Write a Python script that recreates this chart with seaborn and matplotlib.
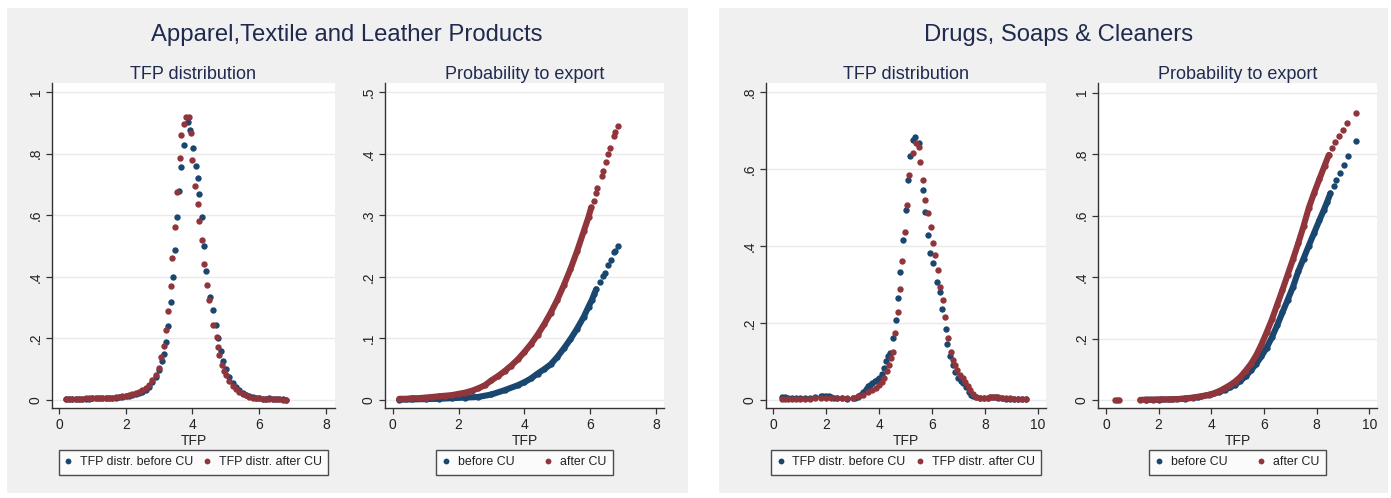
import numpy as np
import pandas as pd
import matplotlib
matplotlib.use("Agg")
import matplotlib.pyplot as plt
from matplotlib.patches import Rectangle
from matplotlib.lines import Line2D
import seaborn as sns

# ---------------- DATA ----------------
panel_titles = ["Apparel,Textile and Leather Products", "Drugs, Soaps & Cleaners"]
sub_titles = ["TFP distribution", "Probability to export"]
xlabel = "TFP"
legend_dist = ["TFP distr. before CU", "TFP distr. after CU"]
legend_prob = ["before CU", "after CU"]

# Apparel - TFP distribution
app_dist_before_x = [0.2,0.3,0.4,0.5,0.6,0.7,0.8,0.9,1.0,1.1,1.2,1.3,1.4,1.5,1.6,1.7,1.8,1.9,2.0,2.1,2.2,2.3,2.4,2.5,2.6,2.7,2.8,2.9,3.0,3.08,
                     3.15,3.22,3.27,3.35,3.42,3.49,3.55,3.60,3.67,3.75,3.87,3.92,4.02,4.10,4.15,4.20,4.27,4.35,4.40,4.52,4.60,4.70,4.77,4.85,4.92,
                     5.0,5.1,5.2,5.3,5.4,5.5,5.6,5.7,5.8,5.9,6.0,6.1,6.2,6.3,6.4,6.5,6.6,6.7,6.8]
app_dist_before_y = [.002,.002,.003,.003,.003,.004,.004,.004,.005,.005,.005,.005,.006,.006,.007,.008,.009,.010,.012,.014,.017,.020,.023,.027,.033,.043,.058,.075,.098,.125,
                     .149,.189,.240,.319,.400,.487,.595,.679,.757,.828,.904,.877,.819,.760,.722,.668,.593,.501,.419,.335,.292,.243,.200,.160,.128,
                     .100,.076,.056,.042,.031,.023,.017,.012,.009,.007,.005,.004,.004,.005,.004,.003,.002,.002,.001]
app_dist_after_x = [0.2,0.3,0.4,0.5,0.6,0.7,0.8,0.9,1.0,1.1,1.2,1.3,1.4,1.5,1.6,1.7,1.8,1.9,2.0,2.1,2.2,2.3,2.4,2.5,2.6,2.7,2.8,2.9,3.0,
                    3.07,3.15,3.22,3.27,3.35,3.40,3.47,3.55,3.62,3.67,3.75,3.82,3.89,3.95,4.00,4.07,4.15,4.20,4.27,4.34,4.42,4.50,4.60,4.72,4.77,4.80,4.88,4.95,
                    5.0,5.1,5.2,5.3,5.4,5.5,5.6,5.7,5.8,5.9,6.0,6.1,6.2,6.3,6.4,6.5,6.6,6.7,6.8]
app_dist_after_y = [.002,.003,.003,.004,.004,.004,.005,.005,.005,.005,.006,.006,.007,.007,.008,.009,.010,.012,.014,.017,.021,.024,.027,.031,.038,.048,.064,.082,.105,
                    .141,.176,.227,.290,.370,.460,.563,.676,.787,.860,.895,.920,.920,.866,.779,.695,.635,.582,.519,.440,.373,.325,.243,.206,.173,.145,.115,.095,
                    .082,.062,.047,.036,.027,.020,.015,.011,.008,.006,.005,.004,.003,.003,.003,.002,.002,.001,.001]

# Apparel - probability to export
app_prob_before_x = [0.2,0.6,1.0,1.4,1.8,2.2,2.6,3.0,3.4,3.8,4.0,4.2,4.4,4.6,4.8,5.0,5.2,5.4,5.6,5.8,5.95,6.05,6.12,6.18,6.30,6.40,6.45,6.55,6.62,6.71,6.75,6.83]
app_prob_before_y = [.0005,.001,.0015,.002,.003,.004,.005,.009,.016,.024,.029,.035,.043,.050,.058,.070,.084,.099,.116,.135,.152,.163,.172,.180,.192,.202,.207,.220,.228,.240,.243,.251]
app_prob_after_x = [0.2,0.4,0.6,0.8,1.0,1.2,1.4,1.6,1.8,2.0,2.2,2.4,2.6,2.8,3.0,3.2,3.4,3.6,3.8,4.0,4.2,4.4,4.6,4.8,5.0,5.2,5.4,5.6,5.8,5.95,
                    6.03,6.10,6.17,6.22,6.35,6.40,6.48,6.55,6.60,6.71,6.75,6.83]
app_prob_after_y = [.002,.002,.003,.003,.004,.005,.006,.007,.008,.010,.012,.015,.019,.024,.032,.039,.047,.056,.066,.078,.091,.106,.123,.142,.163,.187,.213,.242,.274,.298,
                    .313,.324,.336,.344,.364,.372,.387,.400,.410,.430,.435,.446]

# Drugs - TFP distribution
drg_dist_before_x = [0.35,0.45,0.55,0.7,0.85,1.0,1.2,1.4,1.6,1.8,1.9,2.0,2.1,2.2,2.3,2.4,2.6,2.8,3.0,3.1,3.2,3.3,3.4,3.5,3.6,3.66,3.75,3.85,3.91,4.0,
                     4.1,4.2,4.28,4.35,4.42,4.52,4.63,4.71,4.79,4.89,5.01,5.08,5.17,5.28,5.36,5.49,5.65,5.74,5.83,5.92,6.05,6.18,6.30,6.39,6.52,6.57,6.68,
                     6.78,6.88,6.98,7.08,7.18,7.28,7.38,7.48,7.56,7.65,7.8,7.95,8.1,8.2,8.3,8.4,8.5,8.65,8.8,8.95,9.1,9.25,9.4,9.55]
drg_dist_before_y = [.007,.007,.006,.005,.004,.004,.004,.005,.007,.010,.011,.011,.010,.008,.006,.005,.004,.003,.004,.006,.009,.014,.020,.028,.036,.039,.045,.050,.052,.058,
                     .068,.082,.100,.115,.121,.160,.208,.264,.331,.416,.494,.570,.634,.675,.684,.667,.545,.489,.429,.381,.355,.307,.281,.236,.184,.145,.114,
                     .090,.072,.058,.050,.045,.035,.022,.013,.010,.007,.005,.005,.006,.008,.009,.008,.006,.004,.003,.003,.003,.003,.002,.002]
drg_dist_after_x = [0.35,0.45,0.55,0.7,0.85,1.0,1.2,1.4,1.6,1.8,2.0,2.2,2.4,2.6,2.8,3.0,3.2,3.4,3.6,3.75,3.9,4.0,4.1,4.2,4.3,4.37,4.45,4.52,4.60,4.71,
                    4.79,4.88,4.98,5.07,5.14,5.28,5.40,5.49,5.55,5.65,5.74,5.84,5.95,6.03,6.13,6.22,6.30,6.40,6.49,6.62,6.70,6.80,6.87,6.95,7.05,7.15,7.25,
                    7.35,7.45,7.55,7.65,7.8,7.95,8.1,8.2,8.3,8.4,8.5,8.65,8.8,8.95,9.1,9.25,9.4,9.55]
drg_dist_after_y = [.003,.003,.003,.002,.002,.002,.003,.003,.004,.005,.006,.006,.005,.005,.005,.006,.010,.014,.020,.026,.032,.038,.046,.058,.075,.090,.110,.125,.173,.228,
                    .288,.361,.435,.506,.584,.641,.668,.658,.619,.570,.518,.485,.448,.407,.377,.338,.294,.260,.216,.160,.125,.105,.090,.078,.066,.056,.046,
                    .036,.025,.015,.009,.006,.005,.006,.008,.009,.009,.007,.005,.004,.004,.003,.003,.003,.002]

# Drugs - probability to export
drg_prob_before_x = [1.5,2.0,2.5,3.0,3.5,4.0,4.3,4.5,4.7,4.9,5.1,5.3,5.5,5.7,5.9,6.1,6.3,6.5,6.7,6.9,7.1,7.3,7.5,7.7,7.9,8.1,8.27,8.4,8.52,8.65,8.75,8.9,9.03,9.18,9.49]
drg_prob_before_y = [.001,.001,.002,.004,.009,.018,.026,.033,.041,.050,.062,.077,.096,.117,.142,.170,.204,.243,.285,.326,.368,.418,.460,.502,.543,.584,.618,.645,.672,.695,.715,.738,.764,.793,.842]
drg_prob_after_x = [0.35,0.42,0.5,1.3,1.5,1.8,2.1,2.4,2.7,3.0,3.3,3.6,3.9,4.1,4.3,4.5,4.7,4.9,5.1,5.3,5.5,5.7,5.9,6.1,6.3,6.5,6.7,6.9,7.1,7.3,7.5,7.7,7.9,
                    8.1,8.3,8.46,8.6,8.71,8.85,9.0,9.15,9.49]
drg_prob_after_y = [.000,.000,.000,.0005,.001,.001,.002,.002,.003,.005,.008,.012,.017,.022,.029,.038,.048,.060,.075,.095,.117,.145,.180,.220,.262,.310,.358,.408,.458,.510,.565,.625,.673,
                    .718,.762,.797,.818,.838,.860,.878,.900,.932]

# ---------------- STYLE ----------------
sns.set_theme(style="white")
plt.rcParams['font.family'] = ['Liberation Sans', 'DejaVu Sans']

W, H = 1391, 498
NAVY = '#1a476f'
MAROON = '#90353b'
PANEL = '#f0f0f0'
TITLE_C = '#1f2a4e'
TXT_C = '#222222'
GRID_C = '#eaeaea'
MS = 21

fig = plt.figure(figsize=(W / 100, H / 100), dpi=100, facecolor='white')

def px_axes(x0, y0, x1, y1):
    return fig.add_axes([x0 / W, 1 - y1 / H, (x1 - x0) / W, (y1 - y0) / H])

# panels
for (x0, y0, x1, y1) in [(7, 8, 688, 493), (719, 8, 1388, 493)]:
    fig.add_artist(Rectangle((x0 / W, 1 - y1 / H), (x1 - x0) / W, (y1 - y0) / H,
                             transform=fig.transFigure, facecolor=PANEL,
                             edgecolor='none', zorder=-5))

fig.text(347 / W, 1 - 41.5 / H, panel_titles[0], ha='center', va='baseline',
         fontsize=17.2, color=TITLE_C)
fig.text(1059 / W, 1 - 41.5 / H, panel_titles[1], ha='center', va='baseline',
         fontsize=17.2, color=TITLE_C)


def style_axes(ax, title, xlim, ylim, yticks, ylabels, xticks):
    ax.set_facecolor('white')
    ax.set_xlim(*xlim)
    ax.set_ylim(*ylim)
    ax.set_yticks(yticks)
    ax.set_yticklabels(ylabels)
    ax.set_xticks(xticks)
    ax.set_xticklabels([str(t) for t in xticks])
    for lab in ax.get_yticklabels():
        lab.set_rotation(90)
        lab.set_va('center')
        lab.set_ha('right')
    ax.tick_params(axis='both', which='both', length=4, width=0.9, color='#333333',
                   labelsize=10, labelcolor=TXT_C, direction='out', pad=3.5,
                   left=True, bottom=True)
    ax.tick_params(axis='y', pad=2.5)
    ax.grid(False)
    ax.yaxis.grid(True, color=GRID_C, linewidth=1.0)
    ax.set_axisbelow(True)
    for s in ['top', 'right']:
        ax.spines[s].set_visible(False)
    for s in ['left', 'bottom']:
        ax.spines[s].set_visible(True)
        ax.spines[s].set_color('#333333')
        ax.spines[s].set_linewidth(1.0)
    ax.set_title(title, fontsize=13, color=TITLE_C, pad=3)
    ax.set_xlabel(xlabel, fontsize=10, color=TXT_C, labelpad=1)
    ax.set_ylabel('')


def add_legend(ax, labels, y_anchor, colspacing):
    handles = [Line2D([], [], marker='o', linestyle='none', markersize=4.2,
                      markerfacecolor=c, markeredgewidth=0, color=c)
               for c in (NAVY, MAROON)]
    leg = ax.legend(handles, labels, loc='upper center', bbox_to_anchor=(0.5, y_anchor),
                    ncol=2, frameon=True, fancybox=False, fontsize=8.9,
                    handlelength=0.5, handletextpad=0.7, columnspacing=colspacing,
                    borderpad=0.52, borderaxespad=0.0)
    leg.get_frame().set_edgecolor('#222222')
    leg.get_frame().set_linewidth(1.0)
    leg.get_frame().set_facecolor('white')
    for t in leg.get_texts():
        t.set_color(TXT_C)


def dist_plot(ax, bx, by, axx, ay):
    sns.scatterplot(x=bx, y=by, ax=ax, color=NAVY, s=MS, linewidth=0, legend=False, zorder=3)
    sns.scatterplot(x=axx, y=ay, ax=ax, color=MAROON, s=MS, linewidth=0, legend=False, zorder=4)


def prob_plot(ax, bx, by, axx, ay, b_dense, a_dense):
    for xs, ys, c, (lo, hi), z in [(bx, by, NAVY, b_dense, 3), (axx, ay, MAROON, a_dense, 4)]:
        df = pd.DataFrame({'x': xs, 'y': ys})
        dd = df[(df['x'] >= lo) & (df['x'] <= hi)]
        sns.lineplot(data=dd, x='x', y='y', ax=ax, color=c, linewidth=4.4,
                     sort=True, estimator=None, legend=False, zorder=z,
                     solid_capstyle='round')
        sns.scatterplot(data=df, x='x', y='y', ax=ax, color=c, s=MS, linewidth=0,
                        legend=False, zorder=z)


# ---- Apparel: TFP distribution
ax1 = px_axes(52, 83, 335, 408)
dist_plot(ax1, app_dist_before_x, app_dist_before_y, app_dist_after_x, app_dist_after_y)
style_axes(ax1, sub_titles[0], (-0.21, 8.27), (-0.026, 1.029),
           [0, .2, .4, .6, .8, 1], ['0', '.2', '.4', '.6', '.8', '1'], [0, 2, 4, 6, 8])
add_legend(ax1, legend_dist, -0.129, 0.9)

# ---- Apparel: probability
ax2 = px_axes(385, 83, 664, 408)
prob_plot(ax2, app_prob_before_x, app_prob_before_y, app_prob_after_x, app_prob_after_y,
          (0.2, 6.18), (0.2, 6.03))
style_axes(ax2, sub_titles[1], (-0.234, 8.24), (-0.013, 0.5154),
           [0, .1, .2, .3, .4, .5], ['0', '.1', '.2', '.3', '.4', '.5'], [0, 2, 4, 6, 8])
add_legend(ax2, legend_prob, -0.129, 2.5)

# ---- Drugs: TFP distribution
ax3 = px_axes(766, 83, 1046, 408)
dist_plot(ax3, drg_dist_before_x, drg_dist_before_y, drg_dist_after_x, drg_dist_after_y)
style_axes(ax3, sub_titles[0], (-0.264, 10.30), (-0.0208, 0.823),
           [0, .2, .4, .6, .8], ['0', '.2', '.4', '.6', '.8'], [0, 2, 4, 6, 8, 10])
add_legend(ax3, legend_dist, -0.129, 0.9)

# ---- Drugs: probability
ax4 = px_axes(1098, 83, 1377, 408)
prob_plot(ax4, drg_prob_before_x, drg_prob_before_y, drg_prob_after_x, drg_prob_after_y,
          (1.5, 8.52), (1.3, 8.46))
style_axes(ax4, sub_titles[1], (-0.304, 10.29), (-0.026, 1.031),
           [0, .2, .4, .6, .8, 1], ['0', '.2', '.4', '.6', '.8', '1'], [0, 2, 4, 6, 8, 10])
add_legend(ax4, legend_prob, -0.129, 2.5)

fig.savefig('out.png', dpi=100, facecolor='white')
